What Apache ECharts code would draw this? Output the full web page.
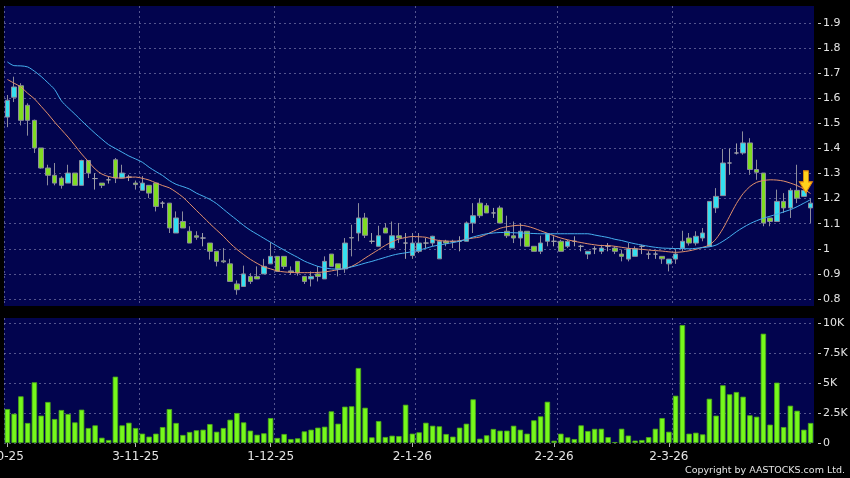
<!DOCTYPE html>
<html>
<head>
<meta charset="utf-8">
<title>AASTOCKS daily chart</title>
<script src="https://cdn.jsdelivr.net/npm/echarts@6/dist/echarts.min.js"></script>
<style>
  html, body { margin: 0; padding: 0; background: #000; }
  #chart { width: 850px; height: 478px; }
</style>
</head>
<body>
<div id="chart"></div>
<script>
// trading days shown, 3 Oct 2025 .. 31 Mar 2026
const octDays = [3, 6, 8, 9, 10, 13, 14, 15, 16, 17, 20, 21, 22, 23, 24, 27, 28, 30, 31]
const novDays = [3, 4, 5, 6, 7, 10, 11, 12, 13, 14, 17, 18, 19, 20, 21, 24, 25, 26, 27, 28]
const decDays = [1, 2, 3, 4, 5, 8, 9, 10, 11, 12, 15, 16, 17, 18, 19, 22, 23, 24, 29, 30, 31]
const janDays = [2, 5, 6, 7, 8, 9, 12, 13, 14, 15, 16, 19, 20, 21, 22, 23, 26, 27, 28, 29, 30]
const febDays = [2, 3, 4, 5, 6, 9, 10, 11, 12, 13, 16, 20, 23, 24, 25, 26, 27]
const marDays = [2, 3, 4, 5, 6, 9, 10, 11, 12, 13, 16, 17, 18, 19, 20, 23, 24, 25, 26, 27, 30, 31]

// date under the left edge tick, and the other labelled days
const firstTick = '2-10-25'
const labelDays = ['3-11-25', '1-12-25', '2-1-26', '2-2-26', '2-3-26']

const opens = [1.525, 1.604, 1.650, 1.572, 1.512, 1.402, 1.322, 1.293, 1.282, 1.262,
  1.302, 1.253, 1.352, 1.280, 1.262, 1.275, 1.355, 1.282, 1.286, 1.262,
  1.233, 1.253, 1.262, 1.182, 1.182, 1.063, 1.109, 1.070, 1.052, 1.043,
  1.023, 0.990, 0.952, 0.940, 0.860, 0.850, 0.890, 0.890, 0.900, 0.940,
  0.970, 0.970, 0.912, 0.950, 0.890, 0.880, 0.900, 0.880, 0.979, 0.940,
  0.920, 1.045, 1.063, 1.123, 1.030, 1.010, 1.083, 1.003, 1.052, 1.023,
  0.973, 0.990, 1.023, 1.023, 0.960, 1.030, 1.030, 1.030, 1.030, 1.103,
  1.182, 1.172, 1.143, 1.163, 1.070, 1.052, 1.043, 1.070, 1.010, 0.990,
  1.030, 1.030, 1.030, 1.010, 1.030, 1.010, 0.979, 1.000, 0.990, 1.010,
  1.003, 0.979, 0.959, 0.970, 1.010, 0.979, 0.979, 0.970, 0.940, 0.959,
  1.003, 1.043, 1.023, 1.043, 1.010, 1.163, 1.212, 1.342, 1.382, 1.382,
  1.422, 1.316, 1.302, 1.123, 1.109, 1.189, 1.163, 1.233, 1.209, 1.163]
const closes = [1.592, 1.645, 1.512, 1.512, 1.402, 1.322, 1.293, 1.262, 1.253, 1.302,
  1.253, 1.352, 1.302, 1.280, 1.253, 1.275, 1.282, 1.302, 1.286, 1.256,
  1.262, 1.222, 1.169, 1.182, 1.083, 1.123, 1.083, 1.023, 1.046, 1.043,
  0.990, 0.950, 0.948, 0.870, 0.837, 0.900, 0.870, 0.880, 0.930, 0.970,
  0.910, 0.930, 0.908, 0.904, 0.870, 0.890, 0.890, 0.950, 0.930, 0.920,
  1.023, 1.043, 1.123, 1.054, 1.030, 1.052, 1.063, 1.052, 1.043, 1.023,
  1.023, 1.023, 1.023, 1.050, 1.030, 1.023, 1.028, 1.030, 1.103, 1.132,
  1.132, 1.143, 1.143, 1.103, 1.052, 1.043, 1.070, 1.010, 0.990, 1.023,
  1.060, 1.030, 0.990, 1.030, 1.030, 1.010, 0.990, 1.000, 1.003, 1.010,
  0.990, 0.970, 1.000, 1.000, 1.010, 0.979, 0.979, 0.960, 0.959, 0.979,
  1.030, 1.023, 1.050, 1.063, 1.189, 1.209, 1.342, 1.342, 1.382, 1.422,
  1.316, 1.305, 1.103, 1.109, 1.189, 1.163, 1.233, 1.202, 1.233, 1.182]
const lows = [1.485, 1.585, 1.492, 1.451, 1.382, 1.320, 1.253, 1.253, 1.240, 1.262,
  1.253, 1.253, 1.282, 1.236, 1.242, 1.260, 1.262, 1.282, 1.270, 1.236,
  1.233, 1.202, 1.149, 1.163, 1.063, 1.063, 1.083, 1.023, 1.036, 1.010,
  0.957, 0.930, 0.943, 0.870, 0.817, 0.850, 0.860, 0.880, 0.900, 0.940,
  0.910, 0.920, 0.897, 0.893, 0.860, 0.850, 0.870, 0.880, 0.930, 0.890,
  0.904, 0.970, 1.030, 1.043, 1.020, 1.010, 1.063, 1.003, 1.023, 0.960,
  0.960, 0.983, 1.003, 1.010, 0.960, 1.010, 1.003, 0.990, 1.030, 1.063,
  1.123, 1.143, 1.123, 1.103, 1.043, 1.023, 1.010, 1.010, 0.990, 0.979,
  1.010, 1.010, 0.990, 1.003, 1.010, 0.990, 0.959, 0.979, 0.979, 0.990,
  0.979, 0.950, 0.950, 0.970, 0.979, 0.959, 0.960, 0.940, 0.910, 0.940,
  0.990, 1.013, 1.013, 1.030, 1.010, 1.143, 1.212, 1.295, 1.376, 1.375,
  1.295, 1.275, 1.090, 1.090, 1.109, 1.143, 1.123, 1.182, 1.209, 1.103]
const highs = [1.613, 1.686, 1.660, 1.580, 1.515, 1.402, 1.335, 1.342, 1.289, 1.335,
  1.302, 1.355, 1.352, 1.302, 1.262, 1.288, 1.362, 1.335, 1.295, 1.272,
  1.290, 1.253, 1.262, 1.190, 1.182, 1.149, 1.149, 1.090, 1.070, 1.063,
  1.023, 0.990, 1.003, 0.960, 0.874, 0.933, 0.903, 0.930, 0.960, 1.026,
  0.970, 0.970, 0.930, 0.950, 0.890, 0.910, 0.930, 0.970, 0.979, 0.940,
  1.043, 1.096, 1.182, 1.143, 1.063, 1.092, 1.103, 1.109, 1.103, 1.063,
  1.063, 1.063, 1.043, 1.052, 1.036, 1.036, 1.036, 1.050, 1.109, 1.182,
  1.202, 1.182, 1.163, 1.172, 1.132, 1.109, 1.103, 1.070, 1.010, 1.052,
  1.060, 1.050, 1.036, 1.036, 1.050, 1.016, 0.990, 1.010, 1.016, 1.023,
  1.010, 0.997, 1.023, 1.010, 1.016, 0.990, 0.990, 0.970, 0.959, 1.000,
  1.072, 1.063, 1.070, 1.083, 1.189, 1.242, 1.398, 1.400, 1.420, 1.468,
  1.441, 1.355, 1.302, 1.123, 1.236, 1.222, 1.242, 1.335, 1.233, 1.202]

// short (orange) and long (blue) moving averages as drawn
const maShort = [1.675, 1.66, 1.645, 1.62, 1.598, 1.568, 1.538, 1.505, 1.475, 1.445,
  1.412, 1.378, 1.348, 1.318, 1.298, 1.288, 1.283, 1.282, 1.285, 1.286,
  1.281, 1.274, 1.263, 1.252, 1.243, 1.226, 1.206, 1.18, 1.153, 1.127,
  1.1, 1.075, 1.05, 1.022, 0.998, 0.977, 0.958, 0.942, 0.928, 0.92,
  0.912, 0.908, 0.906, 0.905, 0.905, 0.905, 0.906, 0.908, 0.912, 0.917,
  0.922, 0.93, 0.945, 0.963, 0.98, 0.997, 1.014, 1.028, 1.039, 1.045,
  1.049, 1.048, 1.046, 1.038, 1.033, 1.031, 1.03, 1.032, 1.038, 1.043,
  1.047, 1.058, 1.07, 1.082, 1.088, 1.092, 1.094, 1.09, 1.082, 1.072,
  1.062, 1.052, 1.043, 1.036, 1.03, 1.025, 1.02, 1.016, 1.013, 1.013,
  1.01, 1.006, 1.002, 1.0, 0.998, 0.995, 0.993, 0.991, 0.988, 0.986,
  0.988, 0.992, 0.998, 1.006, 1.015, 1.04, 1.08, 1.13, 1.18, 1.22,
  1.248, 1.265, 1.272, 1.275, 1.274, 1.27, 1.262, 1.252, 1.238, 1.22]
const maLong = [1.745, 1.73, 1.729, 1.725, 1.708, 1.687, 1.662, 1.635, 1.59, 1.562,
  1.537, 1.51, 1.485, 1.46, 1.437, 1.415, 1.4, 1.385, 1.37, 1.358,
  1.345, 1.325, 1.308, 1.292, 1.272, 1.257, 1.248, 1.238, 1.222, 1.21,
  1.197, 1.18, 1.158, 1.136, 1.115, 1.093, 1.074, 1.058, 1.042, 1.026,
  1.01, 0.995, 0.98, 0.966, 0.951, 0.94, 0.93, 0.924, 0.92, 0.919,
  0.921, 0.928, 0.935, 0.943, 0.95, 0.958, 0.966, 0.974, 0.98, 0.984,
  0.989, 0.995, 1.002, 1.01, 1.015, 1.02, 1.025, 1.03, 1.038, 1.047,
  1.054, 1.06, 1.063, 1.065, 1.065, 1.064, 1.063, 1.062, 1.061, 1.06,
  1.06, 1.06, 1.06, 1.06, 1.06, 1.06, 1.06, 1.055, 1.05, 1.045,
  1.038, 1.033, 1.026, 1.02, 1.015, 1.01, 1.006, 1.003, 1.002, 1.001,
  1.001, 1.0, 1.002, 1.005, 1.008, 1.015, 1.03, 1.048, 1.068, 1.085,
  1.1, 1.112, 1.122, 1.13, 1.138, 1.147, 1.156, 1.168, 1.182, 1.196]

const volumes = [2830, 2440, 3890, 1670, 5060, 2280, 3420, 2000, 2750, 2420,
  1720, 2780, 1250, 1470, 440, 250, 5530, 1470, 1690, 1250,
  780, 530, 780, 1330, 2830, 1670, 670, 920, 1060, 1110,
  1580, 940, 1250, 1940, 2500, 1720, 1030, 690, 810, 2080,
  420, 750, 330, 390, 970, 1110, 1280, 1360, 2640, 1610,
  3030, 3060, 6250, 2940, 470, 1830, 500, 610, 580, 3190,
  780, 890, 1690, 1440, 1390, 750, 530, 1280, 1610, 3640,
  360, 640, 1170, 1030, 1030, 1440, 1110, 780, 1890, 2220,
  3440, 190, 780, 470, 330, 1470, 1000, 1180, 1190, 490,
  80, 1190, 620, 200, 250, 490, 1190, 2080, 940, 3940,
  9830, 780, 860, 720, 3690, 2280, 4810, 4060, 4250, 3860,
  2310, 2190, 9110, 1530, 5030, 1330, 3110, 2690, 1110, 1670]

// yellow arrow marker
const arrowDay = '30-3-26'
const arrowLevel = 1.267

const priceTicks = [0.8, 1.9, 0.1]
const volumeTicks = [0, 10000, 2500]

const dates = [].concat(
  octDays.map(d => d + '-10-25'),
  novDays.map(d => d + '-11-25'),
  decDays.map(d => d + '-12-25'),
  janDays.map(d => d + '-1-26'),
  febDays.map(d => d + '-2-26'),
  marDays.map(d => d + '-3-26')
)
const candles = opens.map((o, i) => [o, closes[i], lows[i], highs[i]])

const font = 'DejaVu Sans'
const navy = '#02044e'
const textColor = '#e4e4e4'
const dashColor = 'rgba(140, 140, 185, 0.6)'
const dashed = { color: dashColor, type: [2, 3], width: 1 }
// the vertical lines: one per labelled day, none on the right border
const vDashed = {
  color: labelDays.map(() => dashColor).concat([dashColor, 'rgba(0,0,0,0)']),
  type: [2, 3],
  width: 1
}

const isLabelDay = (index, value) => index === 0 || labelDays.indexOf(value) > -1
// vertical grid lines sit just right of each labelled day
const isSplitDay = (index) => index === 0 || labelDays.indexOf(dates[index - 1]) > -1

const hiddenAxis = { show: false }
const plotX = { left: 4, width: 810 }

const chart = echarts.init(document.getElementById('chart'))

chart.setOption({
  backgroundColor: '#000',
  animation: false,
  title: {
    text: 'Copyright by AASTOCKS.com Ltd.',
    right: 5,
    bottom: 2,
    padding: 0,
    textStyle: { color: textColor, fontSize: 9.5, fontWeight: 'normal', fontFamily: font }
  },
  grid: [
    // navy panels
    Object.assign({ top: 6, height: 300, show: true, backgroundColor: navy, borderWidth: 0, outerBoundsMode: 'none' }, plotX),
    Object.assign({ top: 318, height: 125, show: true, backgroundColor: navy, borderWidth: 0, outerBoundsMode: 'none' }, plotX),
    // data areas
    Object.assign({ top: 23, height: 276, outerBoundsMode: 'none' }, plotX),
    Object.assign({ top: 323, height: 120, outerBoundsMode: 'none' }, plotX)
  ],
  xAxis: [
    {
      gridIndex: 0, type: 'category', data: dates,
      axisLine: hiddenAxis, axisTick: hiddenAxis, axisLabel: hiddenAxis,
      splitLine: { show: true, interval: isSplitDay, lineStyle: vDashed }
    },
    {
      gridIndex: 1, type: 'category', data: dates,
      axisLine: hiddenAxis, axisTick: hiddenAxis, axisLabel: hiddenAxis,
      splitLine: { show: true, interval: isSplitDay, lineStyle: vDashed }
    },
    { gridIndex: 2, type: 'category', data: dates, show: false },
    {
      gridIndex: 3, type: 'category', data: dates,
      axisLine: hiddenAxis,
      axisTick: { show: true, interval: isLabelDay, alignWithLabel: true, length: 4, lineStyle: { color: '#b0b0b0' } },
      axisLabel: {
        interval: isLabelDay, color: textColor, fontSize: 12, fontFamily: font, margin: 8,
        formatter: (value, index) => index === 0 ? '{edge|' + firstTick + '}' : value,
        rich: { edge: { color: textColor, fontSize: 12, fontFamily: font, padding: [0, 14, 0, 0] } }
      },
      splitLine: { show: false }
    }
  ],
  yAxis: [
    { gridIndex: 0, type: 'value', show: false },
    { gridIndex: 1, type: 'value', show: false },
    {
      gridIndex: 2, type: 'value', position: 'right', offset: 4,
      min: priceTicks[0], max: priceTicks[1], interval: priceTicks[2],
      axisLine: hiddenAxis,
      axisTick: { show: true, length: 3, lineStyle: { color: '#c8c8c8' } },
      axisLabel: {
        color: textColor, fontSize: 11, fontFamily: font, margin: 5,
        formatter: v => String(Math.round(v * 10) / 10)
      },
      splitLine: { show: true, lineStyle: dashed }
    },
    {
      gridIndex: 3, type: 'value', position: 'right', offset: 4,
      min: volumeTicks[0], max: volumeTicks[1], interval: volumeTicks[2],
      axisLine: hiddenAxis,
      axisTick: { show: true, length: 3, lineStyle: { color: '#c8c8c8' } },
      axisLabel: {
        color: textColor, fontSize: 11, fontFamily: font, margin: 5,
        formatter: v => v === 0 ? '0' : (v / 1000) + 'K'
      },
      splitLine: { show: true, lineStyle: dashed }
    }
  ],
  series: [
    {
      name: 'Price',
      type: 'candlestick',
      xAxisIndex: 2,
      yAxisIndex: 2,
      barWidth: 5,
      data: candles,
      itemStyle: {
        color: '#34e0f0',
        color0: '#80dc22',
        borderColor: '#8c8c9c',
        borderColor0: '#8c8c9c',
        borderColorDoji: '#a0a0a8',
        borderWidth: 1
      },
      markPoint: {
        symbol: 'path://M4,0 L9,0 L9,11 L13,11 L6.5,22 L0,11 L4,11 Z',
        symbolSize: [13, 22],
        symbolOffset: [2, 0],
        label: { show: false },
        itemStyle: { color: '#ffd21c', borderColor: '#e8890a', borderWidth: 1 },
        data: [{ coord: [arrowDay, arrowLevel] }]
      },
      z: 3
    },
    {
      name: 'MA short',
      type: 'line',
      xAxisIndex: 2,
      yAxisIndex: 2,
      data: maShort,
      symbol: 'none',
      smooth: 0.3,
      lineStyle: { color: '#e2906c', width: 1 },
      z: 4
    },
    {
      name: 'MA long',
      type: 'line',
      xAxisIndex: 2,
      yAxisIndex: 2,
      data: maLong,
      symbol: 'none',
      smooth: 0.3,
      lineStyle: { color: '#46b0f0', width: 1 },
      z: 4
    },
    {
      name: 'Volume',
      type: 'bar',
      xAxisIndex: 3,
      yAxisIndex: 3,
      barWidth: 5.4,
      data: volumes,
      itemStyle: { color: '#76f81c', borderColor: '#4caa18', borderWidth: 0.8 }
    }
  ]
})
</script>
</body>
</html>
